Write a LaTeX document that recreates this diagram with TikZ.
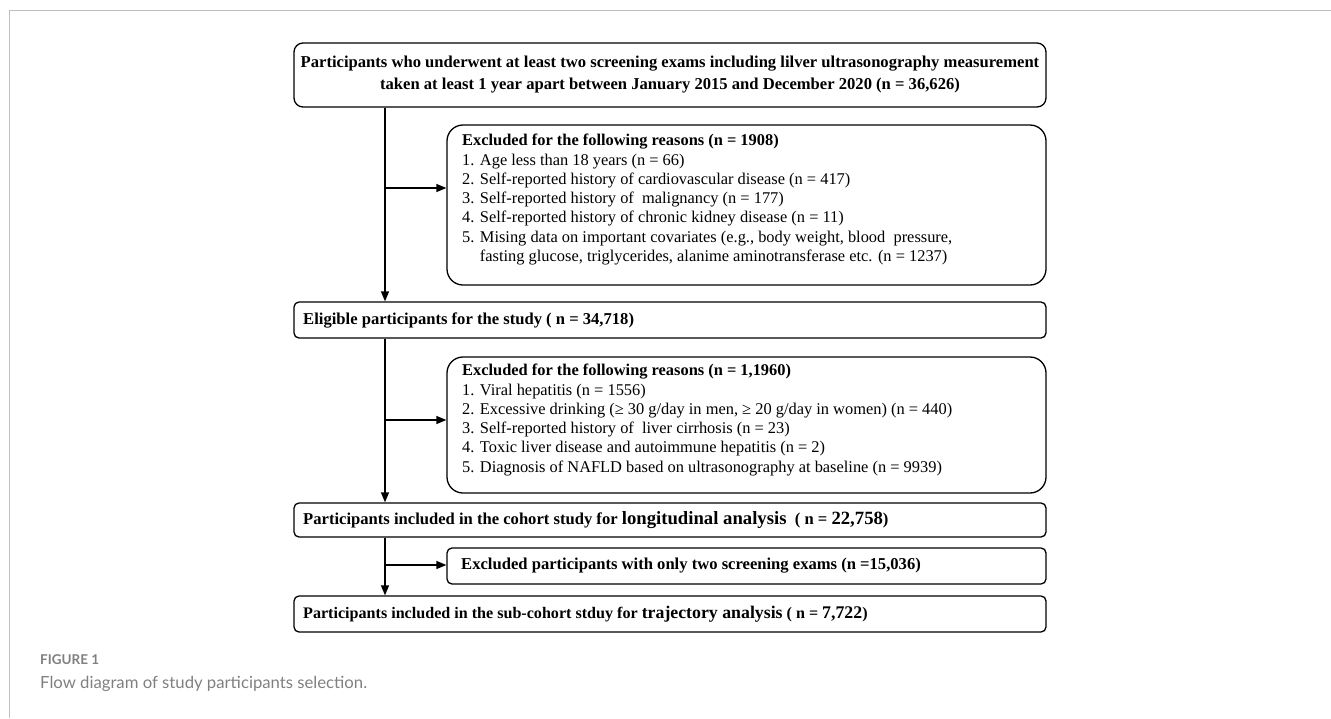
\documentclass[tikz,border=0pt]{standalone}
\usepackage{fontspec}
\setmainfont{Liberation Serif}
\newfontfamily\capfont{Lato}
\usetikzlibrary{arrows.meta}
\begin{document}
\begin{tikzpicture}[x=1pt,y=-1pt]
\tikzset{
  box/.style={draw, line width=1.3pt, rounded corners=5pt, inner sep=0pt},
  arr/.style={line width=1.3pt, -{Triangle[length=10pt,width=8pt]}},
  bigfont/.style={font=\bfseries\fontsize{16.6}{22}\selectfont},
  trfont/.style={font=\bfseries\fontsize{16.1}{22}\selectfont},
  listfont/.style={font=\fontsize{16.4}{19.3}\selectfont},
  rowtext/.style={anchor=west, inner sep=0pt},
}
\newcommand\larger[1]{{\fontsize{18.7}{22}\selectfont #1}}
\newcommand\largetr[1]{{\fontsize{17.8}{22}\selectfont #1}}
\useasboundingbox (0,0) rectangle (1331,718);
\draw[color=black!25, line width=1pt] (9,718) -- (9,10) -- (1331,10);

% boxes
\node[box, rounded corners=9pt, minimum width=752pt, minimum height=64pt, align=center, bigfont] (b1) at (670,75)
 {Participants who underwent at least two screening exams including lilver ultrasonography measurement\\taken at least 1 year apart between January 2015 and December 2020 (n = 36,626)};

\node[box, rounded corners=16pt, minimum width=599pt, minimum height=160pt] (e1) at (746.5,205) {};
\node[anchor=north west, align=left, inner sep=0pt, listfont] (e1t) at (462,134)
 {\textbf{Excluded for the following reasons (n = 1908)}\\
  1. Age less than 18 years (n = 66)\\
  2. Self-reported history of cardiovascular disease (n = 417)\\
  3. Self-reported history of \ malignancy (n = 177)\\
  4. Self-reported history of chronic kidney disease (n = 11)\\
  5. Mising data on important covariates (e.g., body weight, blood \ pressure,\\
  \phantom{5. }fasting glucose, triglycerides, alanime aminotransferase etc. (n = 1237)};

\node[box, minimum width=752pt, minimum height=36pt] (el) at (670,320) {};
\node[rowtext, bigfont] (elt) at (303,320) {Eligible participants for the study ( n = 34,718)};

\node[box, rounded corners=16pt, minimum width=599pt, minimum height=136pt] (e2) at (746.5,425) {};
\node[anchor=north west, align=left, inner sep=0pt, listfont] (e2t) at (462,364)
 {\textbf{Excluded for the following reasons (n = 1,1960)}\\
  1. Viral hepatitis (n = 1556)\\
  2. Excessive drinking (≥ 30 g/day in men, ≥ 20 g/day in women) (n = 440)\\
  3. Self-reported history of \ liver cirrhosis (n = 23)\\
  4. Toxic liver disease and autoimmune hepatitis (n = 2)\\
  5. Diagnosis of NAFLD based on ultrasonography at baseline (n = 9939)};

\node[box, minimum width=752pt, minimum height=34pt] (lo) at (670,520) {};
\node[rowtext, bigfont] (lot) at (303,520) {Participants included in the cohort study for \larger{longitudinal analysis} \ ( n = \larger{22,758})};

\node[box, minimum width=599pt, minimum height=36pt] (e3) at (746.5,566) {};
\node[rowtext, bigfont] (e3t) at (461,566) {Excluded participants with only two screening exams (n =15,036)};

\node[box, minimum width=752pt, minimum height=36pt] (tr) at (670,614) {};
\node[rowtext, trfont] (trt) at (303,614) {Participants included in the sub-cohort stduy for \largetr{trajectory analysis} ( n = \largetr{7,722})};

% connectors
\coordinate (sp) at (385,0);
\coordinate (a1) at (385,188);
\coordinate (a2) at (385,420);
\coordinate (a3) at (385,565);
\draw[arr] (sp |- b1.south) -- (sp |- el.north);
\draw[arr] (sp |- el.south) -- (sp |- lo.north);
\draw[arr] (sp |- lo.south) -- (sp |- tr.north);
\draw[arr] (a1) -- (a1 -| e1.west);
\draw[arr] (a2) -- (a2 -| e2.west);
\draw[arr] (a3) -- (a3 -| e3.west);

% caption
\node[anchor=base west, inner sep=0pt, text=black!50, font=\capfont\bfseries\fontsize{13.5}{16}\selectfont] (fig) at (40,664) {FIGURE 1};
\node[anchor=base west, inner sep=0pt, text=black!50, font=\capfont\fontsize{16.7}{19}\selectfont] (cap) at (40,688) {Flow diagram of study participants selection.};
\end{tikzpicture}
\end{document}
